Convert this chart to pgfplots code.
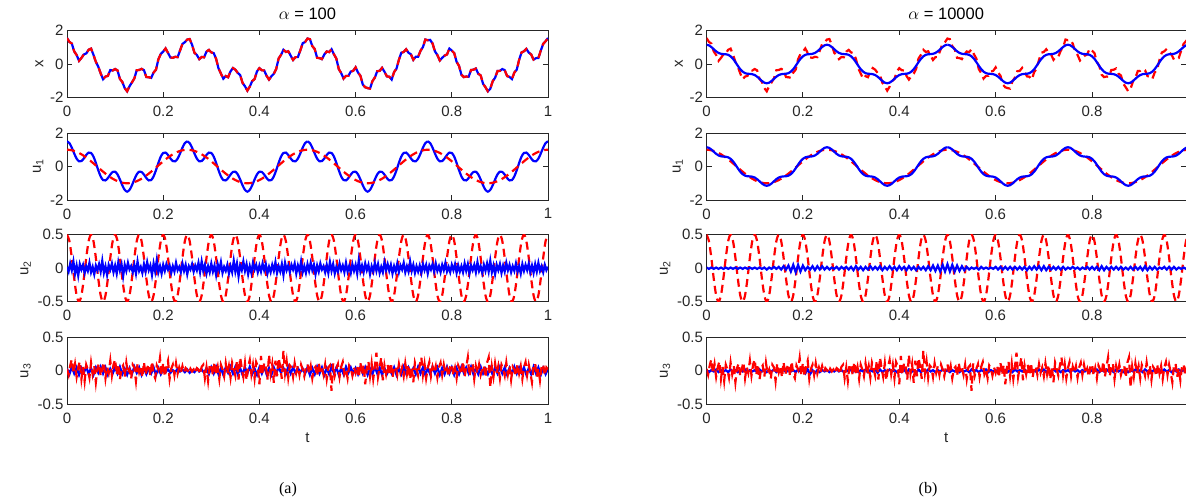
\documentclass[border=0pt]{standalone}
\usepackage{pgfplots}
\pgfplotsset{compat=1.18}
\usepackage{pgfplotstable}
\usepackage{fontspec}
\setmainfont{Liberation Sans}
\newfontfamily\capfont{Liberation Serif}

\definecolor{axgray}{rgb}{0.15,0.15,0.15}

% true signal x = u1 + u2 + u3, sampled every 0.005
\pgfplotstableread[header=false,row sep=\\]{
1.55\\1.32\\1.22\\0.75\\0.54\\0.19\\0.36\\0.57\\0.63\\0.85\\
0.92\\0.55\\0.13\\-0.16\\-0.56\\-0.91\\-0.75\\-0.71\\-0.36\\-0.39\\
-0.30\\-0.38\\-0.89\\-1.07\\-1.44\\-1.63\\-1.33\\-1.10\\-0.86\\-0.37\\
-0.36\\-0.29\\-0.37\\-0.78\\-0.79\\-0.83\\-0.51\\-0.34\\0.28\\0.60\\
0.74\\0.93\\0.66\\0.39\\0.37\\0.43\\0.41\\0.80\\1.20\\1.30\\
1.46\\1.49\\1.15\\0.67\\0.54\\0.29\\0.42\\0.40\\0.74\\0.84\\
0.69\\0.65\\0.31\\-0.26\\-0.57\\-0.88\\-0.72\\-0.79\\-0.44\\-0.24\\
-0.34\\-0.53\\-0.66\\-1.13\\-1.33\\-1.59\\-1.35\\-1.02\\-0.90\\-0.44\\
-0.25\\-0.37\\-0.39\\-0.71\\-0.93\\-0.73\\-0.58\\-0.29\\0.33\\0.55\\
0.85\\0.72\\0.76\\0.50\\0.24\\0.41\\0.41\\0.81\\1.24\\1.31\\
1.52\\1.48\\1.07\\0.89\\0.37\\0.35\\0.29\\0.57\\0.75\\0.71\\
0.88\\0.58\\0.32\\-0.30\\-0.54\\-0.87\\-0.71\\-0.71\\-0.45\\-0.41\\
-0.20\\-0.51\\-0.70\\-1.23\\-1.39\\-1.44\\-1.47\\-1.02\\-0.81\\-0.43\\
-0.41\\-0.23\\-0.46\\-0.74\\-0.76\\-0.93\\-0.48\\-0.28\\0.25\\0.67\\
0.72\\0.88\\0.67\\0.58\\0.25\\0.43\\0.43\\0.79\\1.01\\1.46\\
1.42\\1.44\\1.22\\0.75\\0.54\\0.21\\0.37\\0.50\\0.57\\0.92\\
0.80\\0.65\\0.13\\-0.11\\-0.64\\-0.78\\-0.75\\-0.76\\-0.36\\-0.34\\
-0.27\\-0.58\\-0.68\\-1.18\\-1.39\\-1.63\\-1.48\\-1.03\\-0.82\\-0.42\\
-0.41\\-0.30\\-0.37\\-0.72\\-0.77\\-0.90\\-0.51\\-0.34\\0.25\\0.69\\
0.76\\0.90\\0.68\\0.57\\0.26\\0.35\\0.36\\0.80\\1.20\\1.36\\
1.55\\
}\xtrue

% first mode, true: the slow cosine
\pgfplotstableread[header=false,row sep=\\]{
1\\0.992\\0.969\\0.930\\0.876\\0.809\\0.729\\0.637\\0.536\\0.426\\
0.309\\0.187\\0.063\\-0.063\\-0.187\\-0.309\\-0.426\\-0.536\\-0.637\\-0.729\\
-0.809\\-0.876\\-0.930\\-0.969\\-0.992\\-1\\-0.992\\-0.969\\-0.930\\-0.876\\
-0.809\\-0.729\\-0.637\\-0.536\\-0.426\\-0.309\\-0.187\\-0.063\\0.063\\0.187\\
0.309\\0.426\\0.536\\0.637\\0.729\\0.809\\0.876\\0.930\\0.969\\0.992\\
1\\0.992\\0.969\\0.930\\0.876\\0.809\\0.729\\0.637\\0.536\\0.426\\
0.309\\0.187\\0.063\\-0.063\\-0.187\\-0.309\\-0.426\\-0.536\\-0.637\\-0.729\\
-0.809\\-0.876\\-0.930\\-0.969\\-0.992\\-1\\-0.992\\-0.969\\-0.930\\-0.876\\
-0.809\\-0.729\\-0.637\\-0.536\\-0.426\\-0.309\\-0.187\\-0.063\\0.063\\0.187\\
0.309\\0.426\\0.536\\0.637\\0.729\\0.809\\0.876\\0.930\\0.969\\0.992\\
1\\0.992\\0.969\\0.930\\0.876\\0.809\\0.729\\0.637\\0.536\\0.426\\
0.309\\0.187\\0.063\\-0.063\\-0.187\\-0.309\\-0.426\\-0.536\\-0.637\\-0.729\\
-0.809\\-0.876\\-0.930\\-0.969\\-0.992\\-1\\-0.992\\-0.969\\-0.930\\-0.876\\
-0.809\\-0.729\\-0.637\\-0.536\\-0.426\\-0.309\\-0.187\\-0.063\\0.063\\0.187\\
0.309\\0.426\\0.536\\0.637\\0.729\\0.809\\0.876\\0.930\\0.969\\0.992\\
1\\0.992\\0.969\\0.930\\0.876\\0.809\\0.729\\0.637\\0.536\\0.426\\
0.309\\0.187\\0.063\\-0.063\\-0.187\\-0.309\\-0.426\\-0.536\\-0.637\\-0.729\\
-0.809\\-0.876\\-0.930\\-0.969\\-0.992\\-1\\-0.992\\-0.969\\-0.930\\-0.876\\
-0.809\\-0.729\\-0.637\\-0.536\\-0.426\\-0.309\\-0.187\\-0.063\\0.063\\0.187\\
0.309\\0.426\\0.536\\0.637\\0.729\\0.809\\0.876\\0.930\\0.969\\0.992\\
1\\
}\uonetrue

% second mode, true
\pgfplotstableread[header=false,row sep=\\]{
0.5\\0.405\\0.155\\-0.155\\-0.405\\-0.5\\-0.405\\-0.155\\0.155\\0.405\\
0.5\\0.405\\0.155\\-0.155\\-0.405\\-0.5\\-0.405\\-0.155\\0.155\\0.405\\
0.5\\0.405\\0.155\\-0.155\\-0.405\\-0.5\\-0.405\\-0.155\\0.155\\0.405\\
0.5\\0.405\\0.155\\-0.155\\-0.405\\-0.5\\-0.405\\-0.155\\0.155\\0.405\\
0.5\\0.405\\0.155\\-0.155\\-0.405\\-0.5\\-0.405\\-0.155\\0.155\\0.405\\
0.5\\0.405\\0.155\\-0.155\\-0.405\\-0.5\\-0.405\\-0.155\\0.155\\0.405\\
0.5\\0.405\\0.155\\-0.155\\-0.405\\-0.5\\-0.405\\-0.155\\0.155\\0.405\\
0.5\\0.405\\0.155\\-0.155\\-0.405\\-0.5\\-0.405\\-0.155\\0.155\\0.405\\
0.5\\0.405\\0.155\\-0.155\\-0.405\\-0.5\\-0.405\\-0.155\\0.155\\0.405\\
0.5\\0.405\\0.155\\-0.155\\-0.405\\-0.5\\-0.405\\-0.155\\0.155\\0.405\\
0.5\\0.405\\0.155\\-0.155\\-0.405\\-0.5\\-0.405\\-0.155\\0.155\\0.405\\
0.5\\0.405\\0.155\\-0.155\\-0.405\\-0.5\\-0.405\\-0.155\\0.155\\0.405\\
0.5\\0.405\\0.155\\-0.155\\-0.405\\-0.5\\-0.405\\-0.155\\0.155\\0.405\\
0.5\\0.405\\0.155\\-0.155\\-0.405\\-0.5\\-0.405\\-0.155\\0.155\\0.405\\
0.5\\0.405\\0.155\\-0.155\\-0.405\\-0.5\\-0.405\\-0.155\\0.155\\0.405\\
0.5\\0.405\\0.155\\-0.155\\-0.405\\-0.5\\-0.405\\-0.155\\0.155\\0.405\\
0.5\\0.405\\0.155\\-0.155\\-0.405\\-0.5\\-0.405\\-0.155\\0.155\\0.405\\
0.5\\0.405\\0.155\\-0.155\\-0.405\\-0.5\\-0.405\\-0.155\\0.155\\0.405\\
0.5\\0.405\\0.155\\-0.155\\-0.405\\-0.5\\-0.405\\-0.155\\0.155\\0.405\\
0.5\\0.405\\0.155\\-0.155\\-0.405\\-0.5\\-0.405\\-0.155\\0.155\\0.405\\
0.5\\
}\utwotrue

% third mode, true (noise), sampled every 1/300
\pgfplotstableread[header=false,row sep=\\]{
0.03\\-0.06\\0.08\\0.17\\-0.04\\0.10\\-0.09\\0.05\\0.14\\-0.12\\
0.06\\-0.15\\0.09\\0.02\\-0.10\\0.12\\-0.05\\0.07\\-0.17\\0.04\\
0.11\\-0.08\\0.03\\0.13\\-0.11\\0.06\\-0.03\\0.15\\-0.07\\0.09\\
0.17\\-0.06\\0.10\\-0.13\\0.04\\0.08\\-0.09\\0.12\\-0.04\\0.02\\
-0.12\\0.09\\0.05\\-0.15\\0.11\\-0.02\\0.07\\-0.10\\0.13\\-0.06\\
0.04\\0.10\\-0.08\\0.14\\-0.05\\-0.11\\0.08\\0.02\\0.19\\-0.07\\
0.12\\-0.09\\0.06\\0.15\\-0.12\\0.03\\0.09\\-0.06\\0.11\\-0.04\\
0.05\\-0.03\\0.07\\-0.02\\0.04\\0.01\\-0.04\\0.03\\-0.01\\0.02\\
-0.03\\0.04\\0.02\\-0.05\\0.06\\0.09\\-0.11\\0.05\\-0.15\\0.08\\
0.10\\-0.07\\0.13\\-0.04\\0.06\\-0.12\\0.09\\0.02\\-0.08\\0.11\\
-0.05\\0.07\\-0.10\\0.12\\0.03\\-0.07\\0.15\\-0.13\\0.20\\0.04\\
-0.09\\0.11\\-0.14\\0.06\\0.16\\-0.05\\0.09\\-0.11\\0.13\\0.07\\
-0.20\\0.22\\-0.06\\0.12\\0.08\\-0.13\\0.24\\-0.04\\0.10\\-0.18\\
0.15\\-0.08\\0.19\\0.06\\-0.12\\0.30\\-0.03\\0.14\\-0.10\\0.08\\
0.05\\-0.09\\0.11\\-0.03\\0.07\\-0.06\\0.09\\0.02\\-0.08\\0.05\\
0.10\\-0.04\\0.07\\-0.11\\0.03\\0.06\\-0.08\\0.12\\-0.02\\0.04\\
-0.06\\0.09\\-0.12\\0.05\\0.08\\-0.30\\0.11\\-0.07\\0.03\\0.10\\
-0.09\\0.06\\0.13\\-0.05\\0.02\\-0.11\\0.08\\0.04\\-0.07\\0.05\\
-0.03\\0.07\\-0.10\\0.12\\-0.06\\0.09\\-0.20\\0.04\\0.14\\-0.08\\
0.11\\-0.12\\0.06\\0.27\\-0.09\\0.05\\0.20\\-0.14\\0.08\\-0.05\\
0.09\\-0.07\\0.12\\-0.10\\0.04\\0.07\\-0.06\\0.10\\-0.03\\0.05\\
-0.08\\0.11\\-0.05\\0.09\\-0.13\\0.06\\-0.17\\0.12\\0.03\\-0.07\\
0.08\\0.20\\-0.06\\0.10\\-0.11\\0.04\\0.13\\-0.08\\0.06\\-0.03\\
0.07\\-0.10\\0.05\\0.12\\-0.06\\0.09\\-0.04\\0.03\\-0.09\\0.06\\
0.10\\-0.07\\0.04\\-0.11\\0.08\\0.02\\-0.05\\0.14\\-0.09\\0.06\\
0.20\\-0.08\\0.05\\0.11\\-0.12\\0.07\\-0.04\\0.09\\-0.06\\0.03\\
0.08\\-0.10\\0.12\\0.20\\-0.25\\0.06\\-0.09\\0.11\\-0.04\\0.07\\
-0.11\\0.09\\0.03\\-0.07\\0.12\\-0.05\\0.08\\-0.13\\0.06\\0.02\\
-0.08\\0.10\\-0.04\\0.07\\-0.12\\0.05\\0.13\\-0.06\\0.09\\-0.03\\
-0.17\\0.08\\0.11\\-0.09\\0.04\\-0.14\\0.06\\0.10\\-0.07\\0.05\\
0.02\\
}\uthreetrue

% alpha = 100: recovered first mode, one 0.25 period
\pgfplotstableread[header=false,row sep=\\]{
1.5\\1.397\\1.123\\0.775\\0.472\\0.309\\0.325\\0.483\\0.690\\0.830\\
0.809\\0.592\\0.217\\-0.217\\-0.592\\-0.809\\-0.830\\-0.690\\-0.483\\-0.325\\
-0.309\\-0.472\\-0.775\\-1.123\\-1.397\\-1.5\\-1.397\\-1.123\\-0.775\\-0.472\\
-0.309\\-0.325\\-0.483\\-0.690\\-0.830\\-0.809\\-0.592\\-0.217\\0.217\\0.592\\
0.809\\0.830\\0.690\\0.483\\0.325\\0.309\\0.472\\0.775\\1.123\\1.397\\
1.5\\
}\uoneA

% alpha = 100: recovered second mode, sampled every 1/300
\pgfplotstableread[header=false,row sep=\\]{
0.02\\-0.05\\0.07\\-0.03\\0.10\\-0.08\\0.04\\-0.11\\0.06\\-0.02\\
0.05\\-0.07\\0.03\\-0.04\\0.08\\-0.06\\0.02\\-0.09\\0.04\\-0.03\\
0.06\\-0.05\\0.11\\-0.07\\0.03\\-0.10\\0.05\\-0.02\\0.07\\-0.06\\
0.04\\-0.08\\0.09\\-0.03\\0.06\\-0.12\\0.05\\-0.04\\0.08\\-0.02\\
0.03\\-0.06\\0.05\\-0.08\\0.10\\-0.04\\0.02\\-0.07\\0.06\\-0.05\\
0.09\\-0.03\\0.04\\-0.10\\0.07\\-0.05\\0.12\\-0.06\\0.03\\-0.08\\
0.05\\-0.04\\0.06\\-0.02\\0.04\\-0.07\\0.03\\-0.05\\0.08\\-0.03\\
0.02\\-0.06\\0.07\\-0.04\\0.05\\-0.09\\0.03\\-0.02\\0.06\\-0.05\\
0.04\\-0.03\\0.08\\-0.06\\0.10\\-0.04\\0.05\\-0.08\\0.03\\-0.06\\
0.07\\-0.05\\0.04\\-0.10\\0.06\\-0.03\\0.09\\-0.07\\0.02\\-0.04\\
0.05\\-0.08\\0.03\\-0.06\\0.11\\-0.05\\0.07\\-0.12\\0.04\\-0.03\\
0.10\\-0.04\\0.06\\-0.09\\0.03\\-0.07\\0.08\\-0.02\\0.05\\-0.06\\
0.04\\-0.05\\0.07\\-0.03\\0.06\\-0.08\\0.02\\-0.06\\0.05\\-0.04\\
0.09\\-0.07\\0.03\\-0.05\\0.06\\-0.10\\0.08\\-0.03\\0.04\\-0.06\\
0.05\\-0.02\\0.07\\-0.08\\0.04\\-0.05\\0.10\\-0.06\\0.03\\-0.07\\
0.06\\-0.04\\0.08\\-0.03\\0.05\\-0.09\\0.04\\-0.05\\0.07\\-0.02\\
0.03\\-0.06\\0.05\\-0.07\\0.09\\-0.04\\0.06\\-0.08\\0.02\\-0.05\\
0.07\\-0.03\\0.04\\-0.06\\0.08\\-0.05\\0.03\\-0.07\\0.06\\-0.04\\
0.05\\-0.08\\0.12\\-0.05\\0.04\\-0.06\\0.07\\-0.03\\0.05\\-0.09\\
0.03\\-0.05\\0.08\\-0.04\\0.06\\-0.07\\0.02\\-0.06\\0.09\\-0.03\\
0.06\\-0.04\\0.05\\-0.08\\0.03\\-0.05\\0.07\\-0.06\\0.04\\-0.02\\
0.08\\-0.06\\0.03\\-0.05\\0.10\\-0.04\\0.05\\-0.07\\0.03\\-0.05\\
0.04\\-0.07\\0.06\\-0.03\\0.05\\-0.08\\0.04\\-0.02\\0.06\\-0.05\\
0.07\\-0.04\\0.03\\-0.06\\0.05\\-0.03\\0.08\\-0.05\\0.02\\-0.06\\
0.05\\-0.03\\0.06\\-0.07\\0.04\\-0.05\\0.03\\-0.06\\0.07\\-0.04\\
0.06\\-0.08\\0.04\\-0.03\\0.05\\-0.06\\0.09\\-0.04\\0.03\\-0.07\\
0.05\\-0.04\\0.07\\-0.05\\0.11\\-0.06\\0.04\\-0.09\\0.05\\-0.03\\
0.06\\-0.07\\0.04\\-0.05\\0.08\\-0.03\\0.05\\-0.06\\0.03\\-0.04\\
0.07\\-0.05\\0.03\\-0.08\\0.06\\-0.04\\0.05\\-0.03\\0.07\\-0.06\\
0.04\\-0.07\\0.06\\-0.05\\0.08\\-0.04\\0.03\\-0.06\\0.05\\-0.03\\
0.02\\
}\utwoA

% alpha = 100: recovered third mode, sampled every 0.005
\pgfplotstableread[header=false,row sep=\\]{
0.03\\-0.05\\0.06\\-0.04\\0.05\\-0.06\\0.04\\-0.03\\0.06\\-0.05\\
0.04\\-0.06\\0.05\\-0.03\\0.06\\-0.04\\0.05\\-0.06\\0.03\\-0.04\\
0.05\\-0.04\\0.06\\-0.05\\0.03\\-0.06\\0.04\\-0.05\\0.06\\-0.03\\
0.05\\-0.06\\0.04\\-0.05\\0.03\\-0.04\\0.05\\-0.06\\0.04\\-0.05\\
0.03\\-0.02\\0.02\\-0.03\\0.01\\-0.02\\0.03\\-0.01\\0.02\\-0.02\\
0.02\\-0.03\\0.01\\-0.02\\0.03\\-0.01\\0.02\\-0.03\\0.04\\-0.05\\
0.05\\-0.04\\0.06\\-0.05\\0.04\\-0.06\\0.05\\-0.03\\0.06\\-0.04\\
0.06\\-0.05\\0.04\\-0.06\\0.05\\-0.04\\0.06\\-0.05\\0.03\\-0.06\\
0.05\\-0.04\\0.06\\-0.05\\0.04\\-0.06\\0.05\\-0.04\\0.06\\-0.03\\
0.04\\-0.05\\0.06\\-0.04\\0.05\\-0.03\\0.04\\-0.02\\0.03\\-0.04\\
0.05\\-0.06\\0.04\\-0.05\\0.06\\-0.04\\0.05\\-0.06\\0.04\\-0.05\\
0.06\\-0.04\\0.05\\-0.06\\0.04\\-0.05\\0.06\\-0.03\\0.05\\-0.04\\
0.04\\-0.05\\0.06\\-0.04\\0.05\\-0.06\\0.03\\-0.05\\0.06\\-0.04\\
0.05\\-0.06\\0.04\\-0.05\\0.03\\-0.04\\0.05\\-0.06\\0.04\\-0.05\\
0.06\\-0.04\\0.05\\-0.03\\0.04\\-0.05\\0.06\\-0.04\\0.05\\-0.06\\
0.04\\-0.05\\0.06\\-0.04\\0.05\\-0.06\\0.04\\-0.05\\0.06\\-0.04\\
0.05\\-0.06\\0.04\\-0.05\\0.06\\-0.03\\0.05\\-0.04\\0.06\\-0.05\\
0.04\\-0.05\\0.06\\-0.04\\0.03\\-0.05\\0.04\\-0.06\\0.05\\-0.04\\
0.06\\-0.04\\0.05\\-0.06\\0.04\\-0.05\\0.06\\-0.04\\0.05\\-0.03\\
0.05\\-0.06\\0.04\\-0.05\\0.06\\-0.04\\0.05\\-0.06\\0.04\\-0.05\\
0.03\\
}\uthreeA

% alpha = 10000: recovered first mode (also the recovered x), one 0.25 period
\pgfplotstableread[header=false,row sep=\\]{
1.15\\1.114\\1.015\\0.883\\0.755\\0.659\\0.608\\0.591\\0.582\\0.547\\
0.459\\0.309\\0.109\\-0.109\\-0.309\\-0.459\\-0.547\\-0.582\\-0.591\\-0.608\\
-0.659\\-0.755\\-0.883\\-1.015\\-1.114\\-1.15\\-1.114\\-1.015\\-0.883\\-0.755\\
-0.659\\-0.608\\-0.591\\-0.582\\-0.547\\-0.459\\-0.309\\-0.109\\0.109\\0.309\\
0.459\\0.547\\0.582\\0.591\\0.608\\0.659\\0.755\\0.883\\1.015\\1.114\\
1.15\\
}\uoneB

% alpha = 10000: recovered second mode, sampled every 0.005
\pgfplotstableread[header=false,row sep=\\]{
0.01\\-0.01\\0.01\\-0.01\\0.01\\-0.01\\0.01\\-0.01\\0.01\\-0.01\\
0.01\\-0.01\\0.01\\-0.01\\0.01\\-0.01\\0.01\\-0.01\\0.01\\-0.01\\
0.01\\-0.01\\0.01\\-0.01\\0.01\\-0.02\\0.01\\-0.01\\0.02\\-0.01\\
0.02\\-0.02\\0.03\\-0.02\\0.04\\-0.05\\0.05\\-0.06\\0.05\\-0.05\\
0.04\\-0.03\\0.02\\-0.02\\0.03\\-0.03\\0.03\\-0.02\\0.03\\-0.02\\
0.02\\-0.02\\0.01\\-0.01\\0.02\\-0.02\\0.02\\-0.01\\0.02\\-0.02\\
0.02\\-0.03\\0.03\\-0.02\\0.02\\-0.03\\0.02\\-0.02\\0.03\\-0.02\\
0.02\\-0.02\\0.03\\-0.03\\0.02\\-0.02\\0.03\\-0.02\\0.02\\-0.03\\
0.03\\-0.02\\0.02\\-0.03\\0.03\\-0.02\\0.02\\-0.03\\0.02\\-0.02\\
0.02\\-0.03\\0.03\\-0.03\\0.04\\-0.04\\0.04\\-0.05\\0.05\\-0.05\\
0.06\\-0.05\\0.05\\-0.05\\0.04\\-0.04\\0.03\\-0.03\\0.02\\-0.02\\
0.01\\-0.01\\0.01\\-0.02\\0.02\\-0.01\\0.01\\-0.01\\0.01\\-0.01\\
0.02\\-0.02\\0.02\\-0.02\\0.02\\-0.02\\0.02\\-0.02\\0.02\\-0.02\\
0.02\\-0.02\\0.02\\-0.03\\0.02\\-0.02\\0.03\\-0.02\\0.03\\-0.03\\
0.03\\-0.03\\0.02\\-0.02\\0.02\\-0.02\\0.02\\-0.02\\0.02\\-0.02\\
0.01\\-0.01\\0.02\\-0.01\\0.01\\-0.02\\0.01\\-0.01\\0.02\\-0.02\\
0.02\\-0.02\\0.02\\-0.03\\0.03\\-0.03\\0.02\\-0.02\\0.02\\-0.02\\
0.02\\-0.02\\0.02\\-0.02\\0.01\\-0.02\\0.02\\-0.02\\0.02\\-0.02\\
0.02\\-0.03\\0.03\\-0.03\\0.02\\-0.02\\0.02\\-0.02\\0.01\\-0.01\\
0.02\\-0.02\\0.02\\-0.02\\0.02\\-0.02\\0.01\\-0.01\\0.01\\-0.01\\
0.01\\
}\utwoB

% alpha = 10000: recovered third mode, sampled every 0.005
\pgfplotstableread[header=false,row sep=\\]{
0.01\\-0.02\\0.01\\-0.01\\0.02\\-0.02\\0.01\\-0.01\\0.01\\-0.02\\
0.02\\-0.01\\0.01\\-0.02\\0.01\\-0.01\\0.02\\-0.02\\0.01\\-0.01\\
0.01\\-0.02\\0.02\\-0.01\\0.01\\-0.02\\0.01\\-0.01\\0.02\\-0.02\\
0.01\\-0.01\\0.02\\-0.02\\0.01\\-0.01\\0.01\\-0.02\\0.02\\-0.01\\
0.01\\-0.04\\0.02\\-0.05\\0.01\\-0.03\\0.01\\-0.02\\0.01\\-0.01\\
0.01\\-0.02\\0.01\\-0.01\\0.02\\-0.01\\0.01\\-0.02\\0.01\\-0.01\\
0.02\\-0.01\\0.01\\-0.02\\0.01\\-0.01\\0.02\\-0.02\\0.01\\-0.01\\
0.02\\-0.03\\0.02\\-0.02\\0.01\\-0.01\\0.02\\-0.01\\0.01\\-0.02\\
0.01\\-0.02\\0.02\\-0.03\\0.02\\-0.02\\0.01\\-0.03\\0.02\\-0.02\\
0.01\\-0.02\\0.02\\-0.01\\0.01\\-0.02\\0.01\\-0.01\\0.02\\-0.01\\
0.01\\-0.02\\0.01\\-0.01\\0.02\\-0.02\\0.01\\-0.01\\0.01\\-0.02\\
0.02\\-0.01\\0.01\\-0.02\\0.01\\-0.01\\0.02\\-0.02\\0.01\\-0.01\\
0.01\\-0.02\\0.02\\-0.01\\0.01\\-0.02\\0.01\\-0.02\\0.02\\-0.01\\
0.01\\-0.01\\0.02\\-0.02\\0.01\\-0.01\\0.01\\-0.02\\0.02\\-0.01\\
0.02\\-0.02\\0.01\\-0.01\\0.02\\-0.01\\0.01\\-0.02\\0.01\\-0.01\\
0.01\\-0.02\\0.02\\-0.01\\0.01\\-0.02\\0.01\\-0.01\\0.02\\-0.02\\
0.01\\-0.01\\0.02\\-0.02\\0.01\\-0.01\\0.02\\-0.01\\0.01\\-0.02\\
0.02\\-0.01\\0.01\\-0.02\\0.01\\-0.02\\0.01\\-0.01\\0.02\\-0.01\\
0.01\\-0.02\\0.02\\-0.01\\0.01\\-0.01\\0.02\\-0.02\\0.01\\-0.01\\
0.02\\-0.01\\0.01\\-0.02\\0.01\\-0.01\\0.02\\-0.01\\0.01\\-0.02\\
0.01\\
}\uthreeB

\pgfplotsset{
  panel/.style={
    scale only axis, width=481pt, height=67pt, anchor=south west,
    xmin=0, xmax=1, xtick={0,0.2,0.4,0.6,0.8,1},
    axis line style={axgray, line width=0.8pt},
    tick style={axgray, line width=0.8pt},
    major tick length=5pt,
    tick align=inside,
    /pgf/number format/assume math mode=true,
    tick label style={font=\fontsize{15}{17}\selectfont, text=axgray},
    xticklabel style={yshift=-5pt},
    label style={font=\fontsize{15}{17}\selectfont, text=axgray},
    title style={font=\fontsize{16.5}{19}\selectfont, text=black, yshift=1pt},
    xlabel style={yshift=-2pt},
  },
  panelB/.style={panel, width=479.5pt, xmax=0.995, xtick={0,0.2,0.4,0.6,0.8}},
  wide/.style={ymin=-2, ymax=2, ytick={-2,0,2}},
  narrow/.style={ymin=-0.5, ymax=0.5, ytick={-0.5,0,0.5}},
  est/.style={color={rgb,1:red,0;green,0;blue,1}, line width=2.2pt},
  ref/.style={color={rgb,1:red,1;green,0;blue,0}, line width=2.2pt, dash pattern=on 8pt off 5pt},
}

\begin{document}
\begin{tikzpicture}
\useasboundingbox (0,0) rectangle (1186pt,496pt);

% ---------------- alpha = 100 ----------------
\begin{axis}[panel, wide, at={(67pt,398.5pt)}, ylabel={x}, title={$\alpha$ = 100}]
  \addplot[est] table[x expr=\coordindex*0.005, y index=0] {\xtrue};
  \addplot[ref] table[x expr=\coordindex*0.005, y index=0] {\xtrue};
\end{axis}

\begin{axis}[panel, wide, at={(67pt,296pt)}, ylabel={u\textsubscript{1}}]
  \pgfplotsinvokeforeach{0,0.25,0.5,0.75}{
    \addplot[est, smooth] table[x expr=\coordindex*0.005+#1, y index=0] {\uoneA};
  }
  \addplot[ref] table[x expr=\coordindex*0.005, y index=0] {\uonetrue};
\end{axis}

\begin{axis}[panel, narrow, at={(67pt,194.3pt)}, ylabel={u\textsubscript{2}}]
  \addplot[ref, smooth] table[x expr=\coordindex*0.005, y index=0] {\utwotrue};
  \addplot[est] table[x expr=\coordindex/300, y index=0] {\utwoA};
\end{axis}

\begin{axis}[panel, narrow, at={(67pt,91.7pt)}, ylabel={u\textsubscript{3}}, xlabel={t}]
  \addplot[est] table[x expr=\coordindex*0.005, y index=0] {\uthreeA};
  \addplot[ref] table[x expr=\coordindex/300, y index=0] {\uthreetrue};
\end{axis}

% ---------------- alpha = 10000 ----------------
\begin{axis}[panelB, wide, at={(706.5pt,398.5pt)}, ylabel={x}, title={$\alpha$ = 10000}]
  \addplot[ref] table[x expr=\coordindex*0.005, y index=0] {\xtrue};
  \pgfplotsinvokeforeach{0,0.25,0.5,0.75}{
    \addplot[est, smooth] table[x expr=\coordindex*0.005+#1, y index=0] {\uoneB};
  }
\end{axis}

\begin{axis}[panelB, wide, at={(706.5pt,296pt)}, ylabel={u\textsubscript{1}}]
  \addplot[ref] table[x expr=\coordindex*0.005, y index=0] {\uonetrue};
  \pgfplotsinvokeforeach{0,0.25,0.5,0.75}{
    \addplot[est, smooth] table[x expr=\coordindex*0.005+#1, y index=0] {\uoneB};
  }
\end{axis}

\begin{axis}[panelB, narrow, at={(706.5pt,194.3pt)}, ylabel={u\textsubscript{2}}]
  \addplot[ref, smooth] table[x expr=\coordindex*0.005, y index=0] {\utwotrue};
  \addplot[est] table[x expr=\coordindex*0.005, y index=0] {\utwoB};
\end{axis}

\begin{axis}[panelB, narrow, at={(706.5pt,91.7pt)}, ylabel={u\textsubscript{3}}, xlabel={t}]
  \addplot[est] table[x expr=\coordindex*0.005, y index=0] {\uthreeB};
  \addplot[ref] table[x expr=\coordindex/300, y index=0] {\uthreetrue};
\end{axis}

% panel captions
\node[anchor=base, font=\capfont\fontsize{16}{18}\selectfont] at (288pt,3pt) {(a)};
\node[anchor=base, font=\capfont\fontsize{16}{18}\selectfont] at (928pt,3pt) {(b)};
\end{tikzpicture}
\end{document}
